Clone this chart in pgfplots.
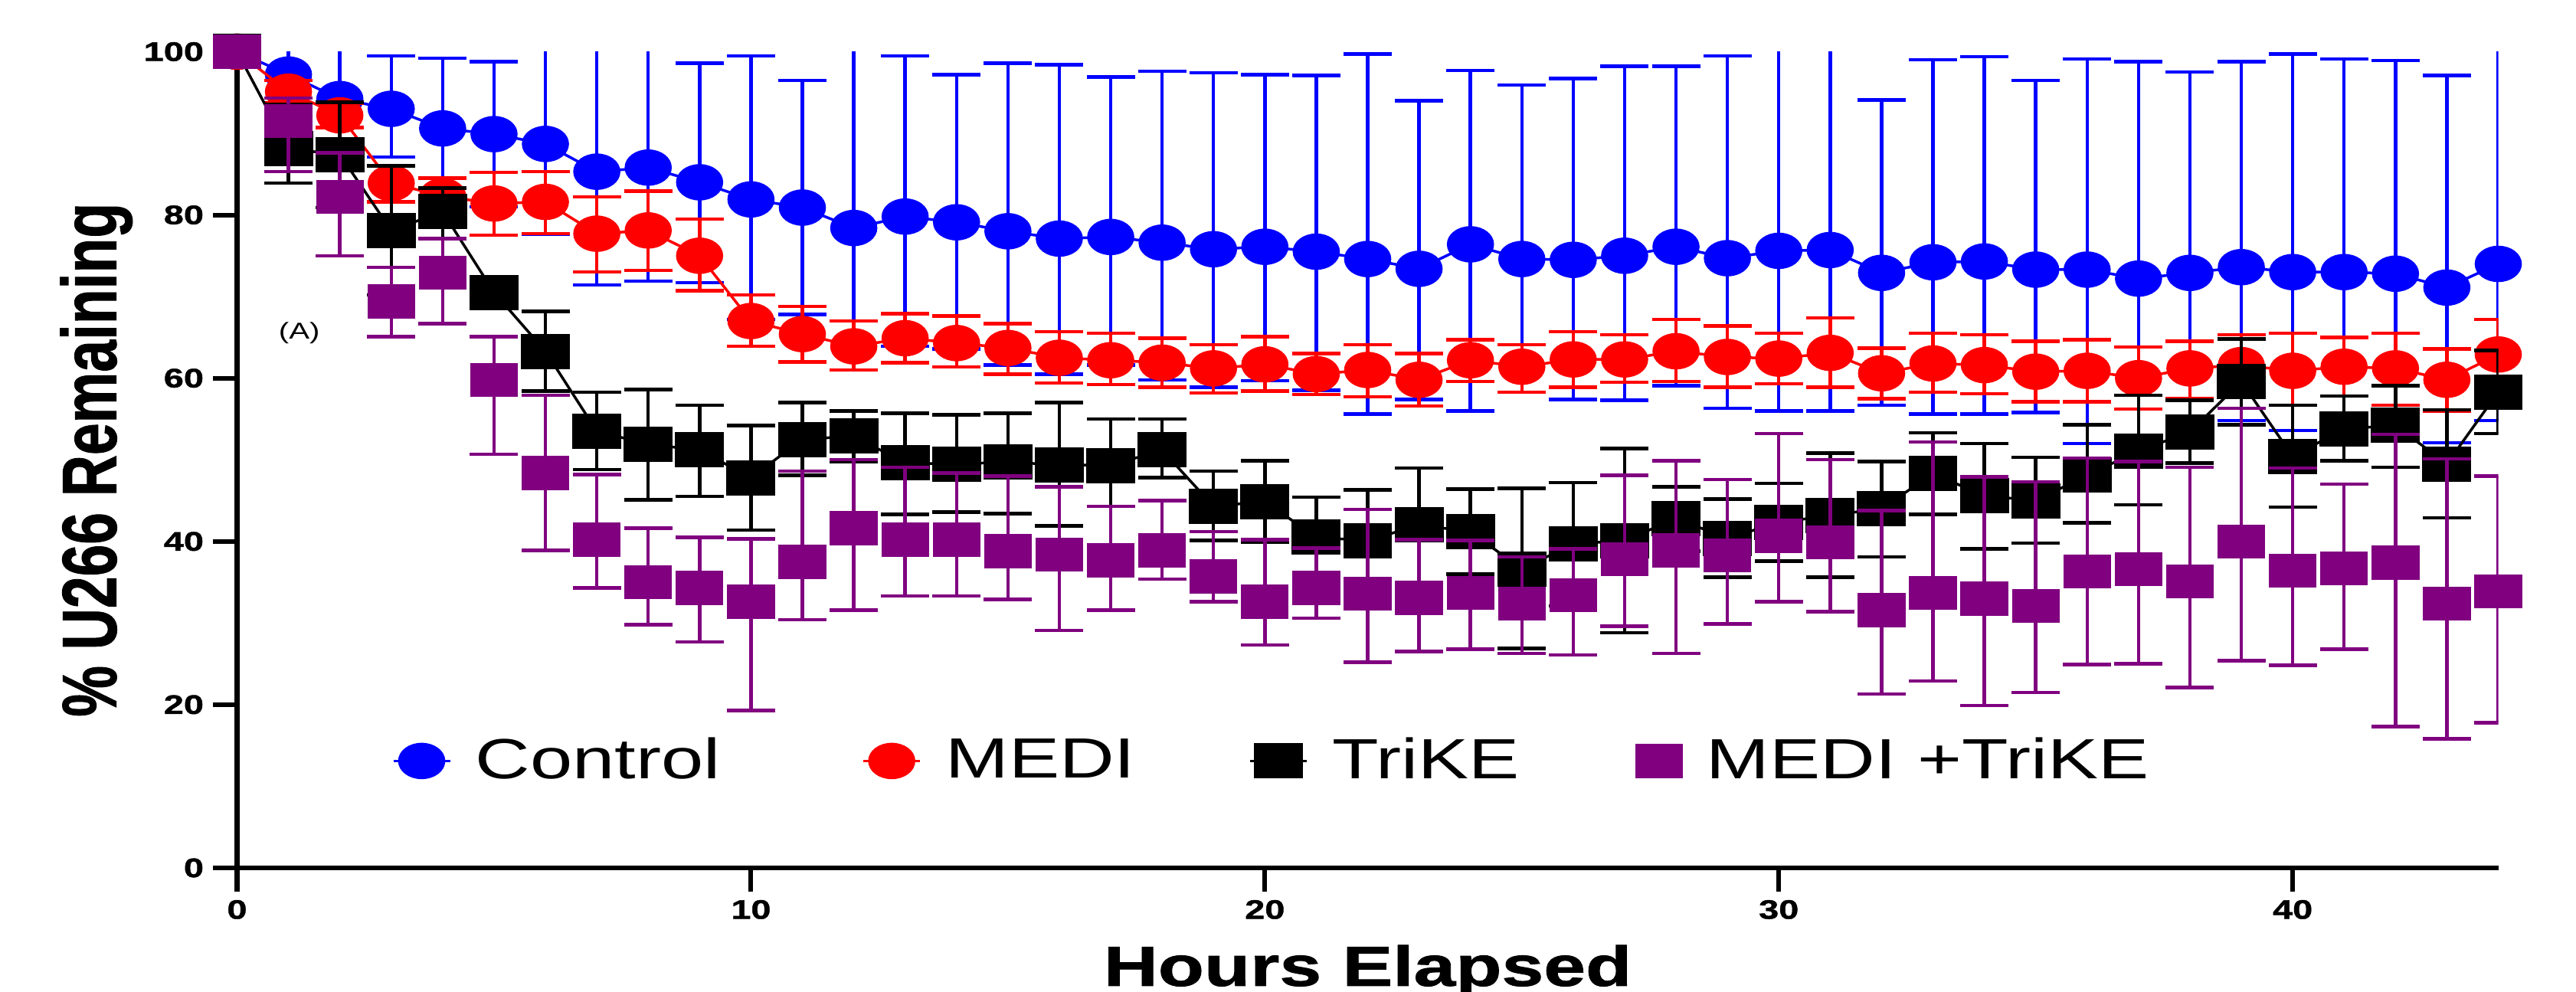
\documentclass[border=0pt]{standalone}
\usepackage{fontspec}
\setmainfont{Liberation Sans}
\newfontfamily\wideFont[FakeStretch=1.34]{Liberation Sans}
\newfontfamily\heavyFont[FakeStretch=1.34,FakeBold=1.2]{Liberation Sans}
\newfontfamily\ylabFont[FakeBold=1.2]{Liberation Sans}
\usepackage{pgfplots}
\usepackage{pgfplotstable}
\pgfplotsset{compat=1.18}
\definecolor{cblue}{RGB}{0,0,255}
\definecolor{cred}{RGB}{255,0,0}
\definecolor{cpurple}{RGB}{128,0,128}

\pgfplotstableread{
x y ep em
0 100 0 0
1 97.2 7.8 7.4
2 94.2 10.8 8.2
3 93.0 6.5 5.9
4 90.6 8.6 8.6
5 89.9 8.9 8.9
6 88.7 16.3 11.1
7 85.3 19.7 13.9
8 85.8 19.2 13.9
9 84.0 14.6 12.3
10 81.9 17.6 14.7
11 80.9 15.6 13.1
12 78.4 26.6 17.4
13 79.8 19.7 15.9
14 79.1 18.1 15.5
15 78.0 20.6 16.4
16 77.1 21.3 16.6
17 77.3 19.6 15.7
18 76.6 21.0 16.8
19 75.8 21.6 16.9
20 76.1 21.1 16.4
21 75.5 21.6 17.0
22 74.6 25.1 19.0
23 73.4 20.6 16.0
24 76.4 21.3 20.4
25 74.6 21.3 16.3
26 74.5 22.2 17.1
27 75.0 23.2 17.7
28 76.1 22.1 17.0
29 74.7 24.8 18.4
30 75.6 30.0 19.6
31 75.7 30.0 19.7
32 72.9 21.2 16.2
33 74.2 24.8 18.6
34 74.3 25.1 18.7
35 73.3 23.2 17.5
36 73.3 25.8 21.3
37 72.2 26.6 19.3
38 72.9 24.6 18.1
39 73.6 25.2 18.8
40 73.0 26.7 19.4
41 73.0 26.1 19.4
42 72.8 26.1 19.5
43 71.1 26.0 19.0
44 74.0 31.0 19.2
}\tblControl

\pgfplotstableread{
x y ep em
0 100 0 0
1 95.1 1.4 1.4
2 92.2 1.5 1.5
3 83.9 2.1 2.3
4 82.3 2.2 2.1
5 81.4 3.8 3.9
6 81.6 3.7 3.9
7 77.7 4.5 4.7
8 78.1 4.8 4.9
9 75.0 4.5 4.3
10 67.0 3.2 3.1
11 65.4 3.4 3.4
12 63.9 3.1 2.9
13 64.9 3.0 3.0
14 64.3 3.3 2.9
15 63.7 3.0 3.2
16 62.5 3.2 3.1
17 62.2 3.3 3.0
18 61.9 3.0 3.0
19 61.2 2.9 3.0
20 61.7 3.4 3.3
21 60.5 2.5 2.5
22 61.0 3.1 3.3
23 59.8 3.2 3.2
24 62.2 2.5 2.6
25 61.4 2.7 3.1
26 62.3 3.4 3.4
27 62.3 3.0 2.8
28 63.3 3.9 3.7
29 62.6 3.8 3.7
30 62.4 3.1 3.1
31 63.1 4.3 4.2
32 60.6 3.1 3.1
33 61.8 3.7 3.5
34 61.6 3.7 3.5
35 60.8 3.7 3.7
36 60.9 3.8 3.8
37 60.0 3.8 3.8
38 61.2 3.3 3.7
39 61.6 3.7 3.7
40 60.9 4.6 4.2
41 61.4 3.6 3.6
42 61.2 4.3 4.5
43 59.8 3.8 3.8
44 62.9 4.3 4.5
}\tblMedi

\pgfplotstableread{
x y ep em
0 100 0 0
1 88.1 5.4 4.2
2 87.4 6.4 6.5
3 78.1 7.9 7.9
4 80.4 2.9 3.3
5 70.5 1.0 1.0
6 63.3 4.9 4.9
7 53.5 4.8 4.7
8 51.9 6.7 6.8
9 51.2 5.5 5.7
10 47.8 6.4 6.4
11 52.5 4.5 4.4
12 52.9 3.1 3.1
13 49.6 6.1 6.3
14 49.5 6.0 5.9
15 49.7 6.0 6.3
16 49.4 7.6 7.5
17 49.3 5.7 5.0
18 51.2 3.8 3.4
19 44.3 4.3 4.2
20 44.9 5.0 5.0
21 40.5 4.9 4.8
22 40.1 6.2 6.0
23 42.0 7.0 7.0
24 41.2 5.2 5.2
25 36.6 9.9 9.7
26 39.7 7.5 7.6
27 40.1 11.3 11.3
28 42.8 3.9 4.0
29 40.4 4.8 4.8
30 42.3 4.8 4.7
31 43.2 7.6 7.6
32 44.0 5.8 5.9
33 48.3 5.0 5.0
34 45.6 6.4 6.5
35 45.0 5.3 5.2
36 48.1 6.2 5.8
37 51.1 6.8 6.6
38 53.4 3.9 3.8
39 59.6 5.2 5.3
40 50.4 6.3 6.2
41 53.8 4.0 3.9
42 54.2 4.9 5.1
43 49.5 6.6 6.6
44 58.3 5.1 5.1
}\tblTrike

\pgfplotstableread{
x y ep em
0 100 0 0
1 91.5 2.8 6.2
2 82.2 5.4 7.2
3 69.4 4.2 4.3
4 72.9 4.2 6.2
5 59.8 5.3 9.1
6 48.4 9.5 9.5
7 40.2 8.0 5.9
8 35.0 6.6 5.2
9 34.3 6.2 6.6
10 32.6 7.7 13.3
11 37.5 11.1 7.1
12 41.6 8.4 10.0
13 40.2 8.9 6.9
14 40.2 8.2 6.9
15 38.8 9.2 5.9
16 38.4 8.3 9.3
17 37.7 6.6 6.1
18 38.9 6.1 3.5
19 35.7 5.5 3.1
20 32.6 7.6 5.3
21 34.3 4.9 3.7
22 33.6 10.3 8.4
23 33.1 7.1 6.6
24 33.7 6.4 6.9
25 32.4 5.7 6.1
26 33.4 5.7 7.3
27 37.8 10.3 8.2
28 38.9 11.0 12.6
29 38.3 9.3 8.4
30 40.7 12.5 8.1
31 39.9 10.1 8.5
32 31.6 12.2 10.3
33 33.7 18.5 10.8
34 33.0 14.9 13.1
35 32.1 15.2 10.6
36 36.3 13.9 11.4
37 36.6 13.2 11.6
38 35.1 14.0 13.0
39 40.0 16.3 14.6
40 36.4 12.6 11.6
41 36.7 10.3 9.9
42 37.4 15.7 20.1
43 32.4 17.7 16.6
44 33.9 14.1 16.1
}\tblCombo

\begin{document}
\begin{tikzpicture}
\begin{axis}[
  name=ax,
  scale only axis,
  width=590.4pt, height=213.1pt,
  xmin=0, xmax=44, ymin=0, ymax=100,
  axis x line*=bottom, axis y line*=left,
  axis line style={line width=1.2pt, -},
  xtick={0,10,20,30,40},
  ytick={0,20,40,60,80,100},
  minor tick num=0,
  tick align=outside,
  major tick length=6.2pt,
  tick style={line width=1.2pt, black},
  /pgf/number format/assume math mode=true,
  tick label style={font=\heavyFont\bfseries\fontsize{7}{8}\selectfont},
  yticklabel style={inner sep=0pt, anchor=east, xshift=-2.3pt},
  xticklabel style={inner sep=0pt, anchor=north, yshift=-2pt},
  xlabel={Hours Elapsed},
  xlabel style={font=\heavyFont\bfseries\fontsize{14.7}{16}\selectfont,
    at={(axis description cs:0.5,-0.1445)}, anchor=base, inner sep=0pt},
  ylabel={\scalebox{1}[1.34]{\% U266 Remaining}},
  ylabel style={font=\ylabFont\bfseries\fontsize{15}{16}\selectfont,
    at={(axis description cs:-0.0535,0.5)}, anchor=base, inner sep=0pt},
  clip mode=individual,
  legend columns=4,
  legend cell align=left,
  legend style={draw=none, fill=none, inner sep=0pt,
    at={(axis cs:3.0,13.1)}, anchor=west,
    font=\wideFont\fontsize{14.8}{16}\selectfont,
    nodes={inner sep=0pt},
    /tikz/every odd column/.append style={column sep=6.3pt},
    /tikz/column 2/.append style={column sep=37pt},
    /tikz/column 4/.append style={column sep=29.6pt},
    /tikz/column 6/.append style={column sep=30.5pt}},
  legend image code/.code={\draw[mark repeat=2,mark phase=2] plot coordinates {(0pt,0pt) (7.4pt,0pt) (14.8pt,0pt)};},
  error bars/y dir=both,
  error bars/y explicit,
]
\addplot[cblue, line width=0.7pt, mark=*, mark size=4.4pt,
  mark options={xscale=1.32, solid, fill=cblue, draw=cblue},
  error bars/error bar style={line width=0.9pt, cblue},
  error bars/error mark options={rotate=90, cblue, line width=0.9pt, mark size=6.3pt}]
  table[x=x, y=y, y error plus=ep, y error minus=em] {\tblControl};
\addlegendentry{Control}
\addplot[cred, line width=0.7pt, mark=*, mark size=4.4pt,
  mark options={xscale=1.32, solid, fill=cred, draw=cred},
  error bars/error bar style={line width=0.9pt, cred},
  error bars/error mark options={rotate=90, cred, line width=0.9pt, mark size=6.3pt}]
  table[x=x, y=y, y error plus=ep, y error minus=em] {\tblMedi};
\addlegendentry{MEDI}
\addplot[black, line width=0.7pt, mark=square*, mark size=4.25pt,
  mark options={xscale=1.42, solid, fill=black, draw=black},
  error bars/error bar style={line width=0.9pt, black},
  error bars/error mark options={rotate=90, black, line width=0.9pt, mark size=6.3pt}]
  table[x=x, y=y, y error plus=ep, y error minus=em] {\tblTrike};
\addlegendentry{TriKE}
\addplot[cpurple, only marks, mark=square*, mark size=4.25pt,
  mark options={xscale=1.42, solid, fill=cpurple, draw=cpurple},
  legend image code/.code={\draw[only marks] plot coordinates {(7.4pt,0pt)}; \coordinate (lgA) at (0pt,0pt); \coordinate (lgB) at (14.8pt,0pt);},
  error bars/error bar style={line width=0.9pt, cpurple},
  error bars/error mark options={rotate=90, cpurple, line width=0.9pt, mark size=6.3pt}]
  table[x=x, y=y, y error plus=ep, y error minus=em] {\tblCombo};
\addlegendentry{MEDI +TriKE}
\node[font=\wideFont\fontsize{6}{7}\selectfont] at (axis cs:1.21,65.5) {(A)};
\end{axis}
\pgfresetboundingbox
\path[use as bounding box] ([shift={(-61.9pt,-32.4pt)}]ax.south west) rectangle ++(672.6pt,259pt);
\end{tikzpicture}
\end{document}
